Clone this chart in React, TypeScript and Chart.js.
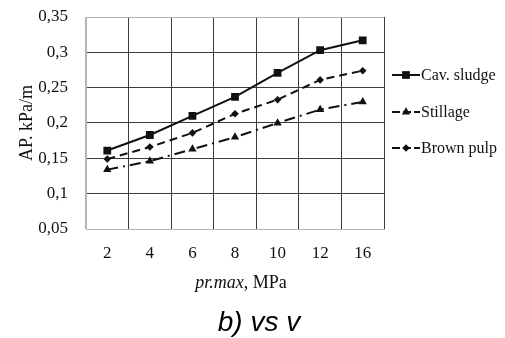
import React, { useEffect, useRef } from 'react';
import { Chart, registerables } from 'chart.js';

Chart.register(...registerables);

const categories = ['2', '4', '6', '8', '10', '12', '16'];
const cavSludge = [0.161, 0.183, 0.21, 0.237, 0.271, 0.303, 0.317];
const stillage = [0.134, 0.146, 0.163, 0.18, 0.2, 0.219, 0.23];
const brownPulp = [0.149, 0.166, 0.186, 0.213, 0.233, 0.261, 0.274];
const yTickValues = [0.05, 0.1, 0.15, 0.2, 0.25, 0.3, 0.35];
const yTickLabels = ['0,05', '0,1', '0,15', '0,2', '0,25', '0,3', '0,35'];
const seriesNames = ['Cav. sludge', 'Stillage', 'Brown pulp'];
const yTitle = 'AP. kPa/m';
const xTitleItalic = 'pr.max';
const xTitleRest = ', MPa';
const caption = 'b) vs v';

const SERIF = "'Liberation Serif', 'Times New Roman', serif";
const INK = '#111111';
const GRID_DARK = '#3c3c3c';
const GRID_LIGHT = '#b4b4b4';

const seriesStyles = [
  { dash: [] as number[], shape: 'rect', radius: 5.5 },
  { dash: [11, 5, 2, 5], shape: 'triangle', radius: 4.8 },
  { dash: [8, 5], shape: 'rectRot', radius: 3.8 },
];

function drawMarker(ctx: CanvasRenderingContext2D, shape: string, x: number, y: number, r: number) {
  ctx.beginPath();
  if (shape === 'rect') {
    const s = Math.SQRT1_2 * r;
    ctx.rect(x - s, y - s, 2 * s, 2 * s);
  } else if (shape === 'triangle') {
    ctx.moveTo(x, y - r);
    ctx.lineTo(x + r * Math.sin(Math.PI / 3), y + r / 2);
    ctx.lineTo(x - r * Math.sin(Math.PI / 3), y + r / 2);
    ctx.closePath();
  } else {
    ctx.moveTo(x, y - r);
    ctx.lineTo(x + r, y);
    ctx.lineTo(x, y + r);
    ctx.lineTo(x - r, y);
    ctx.closePath();
  }
  ctx.fill();
}

const extrasPlugin = {
  id: 'extras',
  afterDraw(chart: any) {
    const { ctx, chartArea } = chart;
    ctx.save();
    // legend
    const legendYs = [75, 112, 148];
    const lx0 = chartArea.right + 8;
    const lx1 = chartArea.right + 36;
    seriesNames.forEach((name, i) => {
      const st = seriesStyles[i];
      const y = legendYs[i];
      ctx.strokeStyle = INK;
      ctx.fillStyle = INK;
      ctx.lineWidth = 2;
      ctx.setLineDash(st.dash.length ? [8, 3] : []);
      ctx.beginPath();
      ctx.moveTo(lx0, y);
      ctx.lineTo(lx1, y);
      ctx.stroke();
      ctx.setLineDash([]);
      drawMarker(ctx, st.shape, (lx0 + lx1) / 2, y, st.radius);
      ctx.font = `16px ${SERIF}`;
      ctx.textAlign = 'left';
      ctx.textBaseline = 'middle';
      ctx.fillText(name, lx1 + 1, y + 1);
    });
    // x title with italic part
    const cx = 241;
    const ty = 283;
    ctx.font = `italic 18px ${SERIF}`;
    const w1 = ctx.measureText(xTitleItalic).width;
    ctx.font = `18px ${SERIF}`;
    const w2 = ctx.measureText(xTitleRest).width;
    const sx = cx - (w1 + w2) / 2;
    ctx.textAlign = 'left';
    ctx.textBaseline = 'middle';
    ctx.fillStyle = INK;
    ctx.font = `italic 18px ${SERIF}`;
    ctx.fillText(xTitleItalic, sx, ty);
    ctx.font = `18px ${SERIF}`;
    ctx.fillText(xTitleRest, sx + w1, ty);
    // caption
    ctx.font = `italic 28px 'Liberation Sans', Arial, sans-serif`;
    ctx.textAlign = 'center';
    ctx.textBaseline = 'alphabetic';
    ctx.fillStyle = '#000000';
    ctx.fillText(caption, 259, 331);
    ctx.restore();
  },
};

export default function App() {
  const canvasRef = useRef<HTMLCanvasElement | null>(null);

  useEffect(() => {
    if (!canvasRef.current) return;
    const makeDataset = (label: string, data: number[], i: number) => ({
      label,
      data,
      borderColor: INK,
      backgroundColor: INK,
      borderWidth: 2,
      borderDash: seriesStyles[i].dash,
      pointStyle: seriesStyles[i].shape,
      pointRadius: seriesStyles[i].radius,
      pointBackgroundColor: INK,
      pointBorderColor: INK,
      pointBorderWidth: 0,
      tension: 0,
      fill: false,
    });
    const chart = new Chart(canvasRef.current, {
      type: 'line',
      data: {
        labels: categories,
        datasets: [
          makeDataset(seriesNames[0], cavSludge, 0),
          makeDataset(seriesNames[1], stillage, 1),
          makeDataset(seriesNames[2], brownPulp, 2),
        ],
      },
      options: {
        animation: false,
        responsive: true,
        maintainAspectRatio: false,
        layout: { padding: { top: 17, right: 121, bottom: 69, left: 0 } },
        plugins: {
          legend: { display: false },
          tooltip: { enabled: false },
          title: { display: false },
        },
        scales: {
          x: {
            type: 'category',
            offset: true,
            grid: {
              offset: true,
              drawTicks: false,
              lineWidth: 1,
              color: (c: any) => (c.index === 0 || c.index === categories.length ? GRID_LIGHT : GRID_DARK),
            },
            border: { display: true, color: GRID_LIGHT, width: 1 },
            ticks: {
              padding: 14,
              color: INK,
              font: { family: SERIF, size: 17 },
              maxRotation: 0,
            },
            afterFit: (scale: any) => {
              scale.height = 40;
              scale.paddingLeft = 0;
              scale.paddingRight = 0;
            },
          },
          y: {
            type: 'linear',
            min: 0.05,
            max: 0.35,
            afterBuildTicks: (scale: any) => {
              scale.ticks = yTickValues.map((v) => ({ value: v }));
            },
            grid: {
              drawTicks: false,
              lineWidth: 1,
              color: (c: any) => (c.index === 0 || c.index === yTickValues.length - 1 ? GRID_LIGHT : GRID_DARK),
            },
            border: { display: true, color: GRID_LIGHT, width: 1 },
            ticks: {
              padding: 18,
              color: INK,
              font: { family: SERIF, size: 17 },
              callback: (_v: any, idx: number) => yTickLabels[idx],
            },
            title: {
              display: true,
              text: yTitle,
              color: INK,
              font: { family: SERIF, size: 18 },
              padding: { top: 16, bottom: 0 },
            },
            afterFit: (scale: any) => {
              scale.width = 86;
              scale.paddingTop = 0;
              scale.paddingBottom = 0;
            },
          },
        },
      } as any,
      plugins: [extrasPlugin],
    });
    return () => chart.destroy();
  }, []);

  return (
    <div style={{ position: 'fixed', left: 0, top: 0, width: 505, height: 338, background: '#ffffff' }}>
      <canvas ref={canvasRef} />
    </div>
  );
}
